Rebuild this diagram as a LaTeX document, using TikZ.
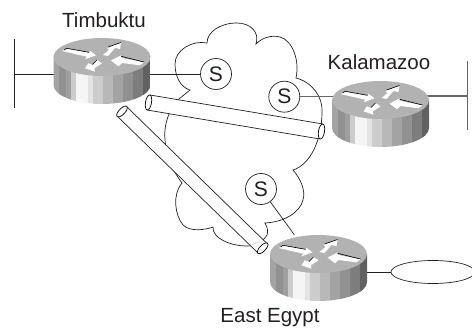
\documentclass[tikz,border=0pt]{standalone}
\usepackage{fontspec}
\setmainfont{Liberation Sans}
\usepackage{tikz}
\definecolor{inkdark}{HTML}{231F20}
\tikzset{
    wire/.style={draw=inkdark, line width=0.7pt},
    greywire/.style={draw=black!60, line width=1.2pt},
    base/.style={draw=inkdark, fill=white, circle, line width=0.7pt, minimum size=31pt, inner sep=0pt, font=\fontsize{21}{21}\selectfont, text=inkdark},
    sitename/.style={font=\fontsize{20.5}{20.5}\selectfont, text=inkdark},
    routerbox/.style={minimum width=97pt, minimum height=66pt, inner sep=0pt},
    tube/.style={draw=black, fill=white, line width=0.7pt},
    shadow/.style={draw=black, line width=0.6pt},
    router/.pic={
        \begin{scope}
            \clip (-48.5,0) -- (-48.5,28) arc[start angle=180, end angle=0, x radius=48.5, y radius=19] -- (48.5,0) -- cycle;
            \foreach \xa/\xb/\shadeval in {-49/-43/64,-43/-36/57,-36/-31/62,-31/-26/80,-26/-14/96,-14/-9/89,-9/1/80,1/11/72,11/21/64,21/31/57,31/41/49,41/49/38}
                \fill[white!\shadeval!black] (\xa,-2) rectangle (\xb,50);
        \end{scope}
        \fill[black!30] (0,0) ellipse[x radius=48.5, y radius=19];
        % arrows on the lid
        \fill[white] (-35.3,-8.3) -- (-12.7,-4.3) -- (-12,-6.3) -- (-6,-1.7) -- (-17,2.3) -- (-15.3,-0.3) -- (-40,-6) -- cycle;
        \draw[shadow] (-38,-7) -- (-35.3,-8.7) -- (-13,-4.7);
        \fill[white] (1,-2) -- (7,-7) -- (5,-9) -- (19,-14.5) -- (18,-8) -- (13,-9) -- (6,-1) -- cycle;
        \draw[shadow] (6,-10) -- (19,-14.5);
        \fill[white] (9,3.5) -- (19,-1.5) -- (20,1) -- (42,5.3) -- (38,8.3) -- (20,6) -- (16.5,9.3) -- cycle;
        \draw[shadow] (19,-0.7) -- (42,5);
        \fill[white] (-17,11.3) -- (-7,14.7) -- (-7.7,11.3) -- (0,6.3) -- (-5,3) -- (-9.3,8) -- (-13.7,6.3) -- cycle;
        \draw[shadow] (-5,3) -- (-9.5,7.5);
    },
}

\begin{document}
\begin{tikzpicture}[x=1pt, y=-1pt]
    \clip (0,0) rectangle (472,329);
    \node[routerbox] (timbuktu) at (102,71) {};
    \node[routerbox] (kalamazoo) at (380.5,114) {};
    \node[routerbox] (egypt) at (318.5,268) {};

    % the cloud
    \draw[wire] (190,90) .. controls (180,87) and (175,76) .. (175,64)
        .. controls (175,50) and (192,40) .. (207,43)
        .. controls (207,32) and (220,23) .. (237,23)
        .. controls (250,23) and (260,32) .. (256,44)
        .. controls (263,37) and (272,35) .. (280,37)
        .. controls (292,40) and (300,60) .. (296,78)
        .. controls (312,82) and (323,97) .. (322,112)
        .. controls (322,140) and (310,165) .. (293,170)
        .. controls (300,178) and (306,190) .. (303,200)
        .. controls (300,212) and (285,222) .. (265,223)
        .. controls (268,228) and (268,232) .. (267,235)
        .. controls (262,243) and (255,246) .. (247,246)
        .. controls (230,246) and (212,238) .. (213,227)
        .. controls (205,230) and (190,232) .. (183,225)
        .. controls (175,215) and (172,195) .. (182,183)
        .. controls (172,170) and (166,155) .. (165,140)
        .. controls (164,130) and (166,122) .. (169,114)
        .. controls (172,108) and (175,102) .. (179,99) -- cycle;

    % tubes
    \fill[white] (150,95) -- (323,124) -- (320,139) -- (147,110) -- cycle;
    \draw[wire] (150,95) -- (323,124) (147,110) -- (320,139);
    \draw[tube] (148.5,102.5) ellipse[x radius=3, y radius=7.6, rotate=-9.5];
    \draw[tube] (321.5,131.5) ellipse[x radius=3, y radius=7.6, rotate=-9.5];
    \fill[white] (127,107) -- (267,243.5) -- (258,253) -- (117,116) -- cycle;
    \draw[wire] (127,107) -- (267,243.5) (117,116) -- (258,253);
    \draw[black!35, line width=0.3pt] (252,245) -- (260,241.5);
    \draw[tube] (122,111.5) ellipse[x radius=3, y radius=7, rotate=-44];
    \draw[tube] (262.7,248.3) ellipse[x radius=3, y radius=7, rotate=-44];

    % S boxes
    \node[base] (s1) at (216,74) {S};
    \node[base] (s2) at (284.3,96.7) {S};
    \node[base] (s3) at (261,189) {S};

    % lan bars and links
    \coordinate (lana) at (14.5,74);
    \coordinate (lanb) at (467.5,96);
    \coordinate (ring) at (391,272);
    \draw[wire] (14.5,39) -- (14.5,108);
    \draw[greywire] (467.5,61) -- (467.5,130);
    \draw[wire] (lana) -- (lana -| timbuktu);
    \draw[wire] (s1) -- (s1 -| timbuktu);
    \draw[greywire] (s2) -- (s2 -| kalamazoo);
    \draw[greywire] (lanb) -- (lanb -| kalamazoo);
    \draw[wire] (s3) -- (egypt);
    \draw[wire] (egypt) -- (egypt |- ring) -- (ring);
    \draw[wire] (433,272) ellipse[x radius=42, y radius=11.5];

    % routers on top of the links
    \pic at (102,57) {router};
    \pic at (380.5,100) {router};
    \pic at (318.5,254) {router};

    \node[sitename] (timbuktulabel) at (104,20) {Timbuktu};
    \node[sitename] (kalamazoolabel) at (379,62) {Kalamazoo};
    \node[sitename] (egyptlabel) at (270,318) {East Egypt};
\end{tikzpicture}
\end{document}
